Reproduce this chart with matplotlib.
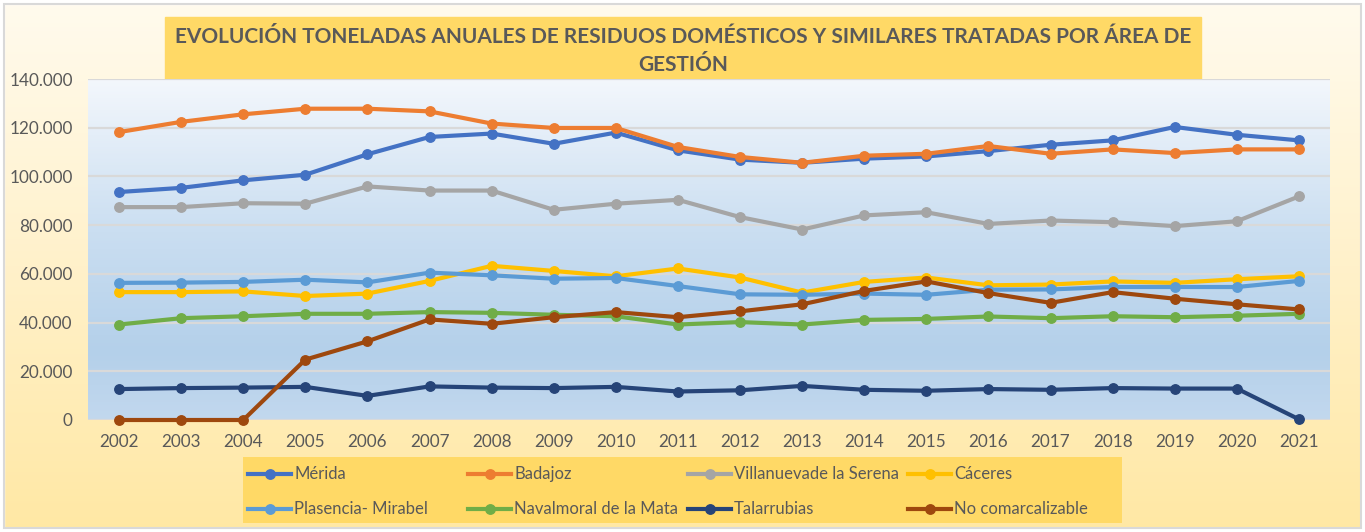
import numpy as np
import matplotlib
matplotlib.use("Agg")
import matplotlib.pyplot as plt
from matplotlib.colors import LinearSegmentedColormap
from matplotlib.lines import Line2D
from matplotlib.patches import Rectangle
from matplotlib.ticker import FuncFormatter

# ---------------- data ----------------
years = [str(y) for y in range(2002, 2022)]

merida = [93600, 95300, 98400, 100700, 109100, 116200, 117600, 113400, 118000, 110700,
          106900, 105600, 107300, 108200, 110400, 113000, 114800, 120300, 117100, 114800]
badajoz = [118200, 122400, 125500, 127800, 127800, 126700, 121700, 119900, 119900, 112100,
           108000, 105600, 108500, 109300, 112500, 109300, 111100, 109600, 111100, 111100]
villanueva = [87400, 87400, 89000, 88800, 95900, 94200, 94200, 86300, 88800, 90400,
              83300, 78200, 84000, 85300, 80500, 81900, 81200, 79600, 81600, 91800]
caceres = [52500, 52500, 52800, 50900, 51900, 57100, 63300, 61200, 59000, 62200,
           58500, 52300, 56700, 58500, 55300, 55600, 56900, 56300, 57800, 59000]
plasencia = [56300, 56400, 56700, 57600, 56500, 60500, 59400, 58000, 58300, 55000,
             51600, 51400, 51900, 51400, 53500, 53600, 54600, 54600, 54600, 57100]
navalmoral = [39200, 41800, 42600, 43600, 43600, 44300, 44000, 43200, 42600, 39200,
              40200, 39200, 41100, 41500, 42500, 41800, 42600, 42200, 42800, 43600]
talarrubias = [12700, 13100, 13300, 13600, 9900, 13800, 13300, 13100, 13600, 11700,
               12200, 14000, 12400, 12000, 12700, 12400, 13100, 12900, 12900, 300]
no_comarcal = [0, 0, 0, 24800, 32300, 41300, 39500, 42200, 44300, 42200,
               44600, 47500, 53000, 56900, 52100, 48100, 52500, 49800, 47500, 45400]

series_names = ["Mérida", "Badajoz", "Villanuevade la Serena", "Cáceres",
                "Plasencia- Mirabel", "Navalmoral de la Mata", "Talarrubias", "No comarcalizable"]
series_values = [merida, badajoz, villanueva, caceres, plasencia, navalmoral, talarrubias, no_comarcal]
series_colors = ["#4472C4", "#ED7D31", "#A5A5A5", "#FFC000",
                 "#5B9BD5", "#70AD47", "#264478", "#9E480E"]

y_ticks = [0, 20000, 40000, 60000, 80000, 100000, 120000, 140000]

title_text = ("EVOLUCIÓN TONELADAS ANUALES DE RESIDUOS DOMÉSTICOS Y SIMILARES TRATADAS POR ÁREA DE\n"
              "GESTIÓN")

# ---------------- layout ----------------
W, H = 1365, 532
plt.rcParams['font.family'] = ['Lato', 'DejaVu Sans']
TXT = "#595959"

fig = plt.figure(figsize=(W / 100, H / 100), dpi=100)


def frac_rect(x0, y0, x1, y1):
    """pixel box (top-left origin) -> figure fraction [l, b, w, h]"""
    return [x0 / W, 1 - y1 / H, (x1 - x0) / W, (y1 - y0) / H]


# background gradient of the chart area
bg = fig.add_axes([0, 0, 1, 1], zorder=-10)
bg_cmap = LinearSegmentedColormap.from_list("bg", ["#FFFBEE", "#FFF1CA", "#FFE8A4"])
bg.imshow(np.linspace(0, 1, 256).reshape(-1, 1), cmap=bg_cmap, aspect="auto",
          extent=[0, 1, 0, 1], origin="upper")
bg.set_xlim(0, 1)
bg.set_ylim(0, 1)
bg.axis("off")
# white outside margin + grey border
l, b, w, h = frac_rect(4, 4, 1361, 528)
for (x0, y0, ww, hh) in [(0, 0, 1, b), (0, b + h, 1, 1 - b - h), (0, 0, l, 1), (l + w, 0, 1 - l - w, 1)]:
    bg.add_patch(Rectangle((x0, y0), ww, hh, transform=bg.transAxes, color="white", zorder=2))
bg.add_patch(Rectangle((l, b), w, h, transform=bg.transAxes, fill=False,
                       edgecolor="#D9D9D9", lw=1.5, zorder=3))

# title box
tl, tb, tw, th = frac_rect(165, 17, 1201, 82)
bg.add_patch(Rectangle((tl, tb), tw, th, transform=bg.transAxes, color="#FFD966", zorder=4))
fig.text(683 / W, 1 - 51 / H, title_text, ha="center", va="center", color=TXT,
         fontsize=15, fontweight="bold", linespacing=1.55, zorder=5)

# ---------------- main axes ----------------
ax = fig.add_axes(frac_rect(88, 79, 1330, 420))
ax.set_xlim(-0.5, len(years) - 0.5)
ax.set_ylim(0, 140000)

plot_cmap = LinearSegmentedColormap.from_list(
    "plot", [(0.0, "#F3F7FC"), (0.45, "#CADEF1"), (0.8, "#B4D0EA"), (1.0, "#C2D8EE")])
ax.imshow(np.linspace(0, 1, 256).reshape(-1, 1), cmap=plot_cmap, aspect="auto",
          extent=[-0.5, len(years) - 0.5, 0, 140000], origin="upper", zorder=0)

ax.set_yticks(y_ticks)
ax.yaxis.set_major_formatter(FuncFormatter(lambda v, p: f"{int(v):,}".replace(",", ".")))
ax.set_xticks(range(len(years)))
ax.set_xticklabels(years)
ax.tick_params(axis="both", length=0, colors=TXT, labelsize=12.3)
ax.tick_params(axis="y", pad=11)
ax.tick_params(axis="x", pad=10)
for s in ax.spines.values():
    s.set_visible(False)
ax.grid(axis="y", color="#D9D9D9", lw=1.6, zorder=1)
ax.set_axisbelow(False)

x = np.arange(len(years))
for name, vals, col in zip(series_names, series_values, series_colors):
    ax.plot(x, vals, color=col, lw=3.0, marker="o", markersize=6.8,
            solid_capstyle="round", clip_on=False, zorder=3, label=name)

# ---------------- legend ----------------
lax = fig.add_axes(frac_rect(243, 457, 1122, 523), zorder=5)
lax.set_xlim(243, 1122)
lax.set_ylim(523, 457)
lax.set_facecolor("#FFD966")
lax.set_xticks([])
lax.set_yticks([])
for s in lax.spines.values():
    s.set_visible(False)
row_y = [474, 509]
for i, (name, col) in enumerate(zip(series_names, series_colors)):
    c, r = i % 4, i // 4
    x0 = 248 + 220 * c
    lax.add_line(Line2D([x0, x0 + 43], [row_y[r], row_y[r]], color=col, lw=3.0))
    lax.add_line(Line2D([x0 + 21.5], [row_y[r]], color=col, marker="o", markersize=6.8))
    lax.text(x0 + 46, row_y[r], name, ha="left", va="center", color=TXT, fontsize=12)

fig.savefig("out.png", dpi=100)
